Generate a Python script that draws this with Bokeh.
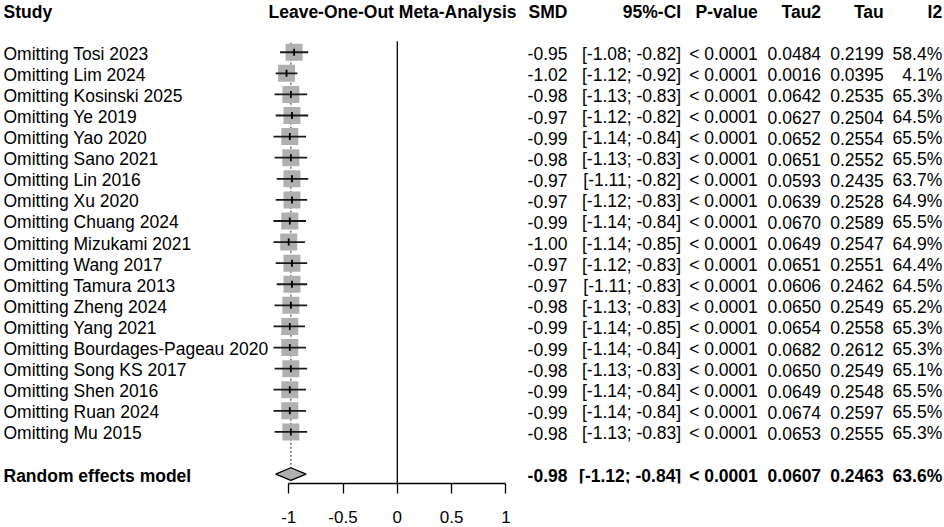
from math import pi
from bokeh.plotting import figure
from bokeh.models import Range1d, LinearAxis, FixedTicker, CustomJSTickFormatter, ColumnDataSource
from bokeh.core.properties import value
from bokeh.embed import file_html
from bokeh.resources import INLINE

# ---------------- data ----------------
studies = ["Omitting Tosi 2023", "Omitting Lim 2024", "Omitting Kosinski 2025", "Omitting Ye 2019",
           "Omitting Yao 2020", "Omitting Sano 2021", "Omitting Lin 2016", "Omitting Xu 2020",
           "Omitting Chuang 2024", "Omitting Mizukami 2021", "Omitting Wang 2017", "Omitting Tamura 2013",
           "Omitting Zheng 2024", "Omitting Yang 2021", "Omitting Bourdages-Pageau 2020",
           "Omitting Song KS 2017", "Omitting Shen 2016", "Omitting Ruan 2024", "Omitting Mu 2015"]
smd = [-0.95, -1.02, -0.98, -0.97, -0.99, -0.98, -0.97, -0.97, -0.99, -1.00,
       -0.97, -0.97, -0.98, -0.99, -0.99, -0.98, -0.99, -0.99, -0.98]
lower = [-1.08, -1.12, -1.13, -1.12, -1.14, -1.13, -1.11, -1.12, -1.14, -1.14,
         -1.12, -1.11, -1.13, -1.14, -1.14, -1.13, -1.14, -1.14, -1.13]
upper = [-0.82, -0.92, -0.83, -0.82, -0.84, -0.83, -0.82, -0.83, -0.84, -0.85,
         -0.83, -0.83, -0.83, -0.85, -0.84, -0.83, -0.84, -0.84, -0.83]
pval = ["< 0.0001"] * 19
tau2 = [0.0484, 0.0016, 0.0642, 0.0627, 0.0652, 0.0651, 0.0593, 0.0639, 0.0670, 0.0649,
        0.0651, 0.0606, 0.0650, 0.0654, 0.0682, 0.0650, 0.0649, 0.0674, 0.0653]
tau = [0.2199, 0.0395, 0.2535, 0.2504, 0.2554, 0.2552, 0.2435, 0.2528, 0.2589, 0.2547,
       0.2551, 0.2462, 0.2549, 0.2558, 0.2612, 0.2549, 0.2548, 0.2597, 0.2555]
i2 = [58.4, 4.1, 65.3, 64.5, 65.5, 65.5, 63.7, 64.9, 65.5, 64.9,
      64.4, 64.5, 65.2, 65.3, 65.3, 65.1, 65.5, 65.5, 65.3]

re_label = "Random effects model"
re_smd, re_lower, re_upper = -0.98, -1.12, -0.84
re_pval = "< 0.0001"
re_tau2, re_tau, re_i2 = 0.0607, 0.2463, 63.6

headers = ["Study", "Leave-One-Out Meta-Analysis", "SMD", "95%-CI", "P-value", "Tau2", "Tau", "I2"]
x_ticks = [-1, -0.5, 0, 0.5, 1]

# ---------------- layout ----------------
W, H = 944, 527
X0_PX = 396.8          # canvas pixel of SMD = 0
PX_PER_UNIT = 108.6


def px2x(px):
    return (px - X0_PX) / PX_PER_UNIT


ROW_TOP, ROW_BOTTOM = -2.4526, 20.446
n = len(studies)
rows = list(range(n))
re_row = n + 1
header_row = -2
FONT = value("Liberation Sans")
FS = "17.5px"
Y_OFF = 1.5

p = figure(width=W, height=H, x_range=Range1d(px2x(0), px2x(W)),
           y_range=Range1d(ROW_BOTTOM, ROW_TOP),
           x_axis_type=None, y_axis_type=None, output_backend="svg",
           toolbar_location=None, min_border=0, min_border_bottom=44,
           outline_line_color=None,
           background_fill_color="white", border_fill_color="white")

axis = LinearAxis(ticker=FixedTicker(ticks=x_ticks),
                  formatter=CustomJSTickFormatter(code="return String(tick)"),
                  bounds=(-1, 1))
axis.major_tick_in = 0
axis.major_tick_out = 10
axis.minor_tick_in = 0
axis.minor_tick_out = 0
axis.axis_line_color = "black"
axis.axis_line_width = 1.3
axis.major_tick_line_color = "black"
axis.major_tick_line_width = 1.3
axis.major_label_standoff = 17
axis.major_label_text_font = "Liberation Sans"
axis.major_label_text_font_size = "17px"
axis.major_label_text_color = "black"
p.add_layout(axis, "below")

# reference line at 0 and dotted line at pooled estimate
p.segment(x0=[0], y0=[-0.52], x1=[0], y1=[ROW_BOTTOM], line_color="black", line_width=1.3)
dh = 0.30
p.segment(x0=[re_smd], y0=[-0.45], x1=[re_smd], y1=[re_row - dh],
          line_color="#555555", line_width=1.3, line_dash="2 2")

# squares, CIs, estimate ticks
p.scatter(x=smd, y=rows, marker="square", size=17, fill_color="#b0b0b0", line_color=None)
p.segment(x0=lower, y0=rows, x1=upper, y1=rows, line_color="#1a1a1a", line_width=1.8)
p.scatter(x=smd, y=rows, marker="dash", angle=pi / 2, size=7, line_color="black", line_width=1.8)

# diamond
p.patch(x=[re_lower, re_smd, re_upper, re_smd], y=[re_row, re_row - dh, re_row, re_row + dh],
        fill_color="#b0b0b0", line_color="black", line_width=1.3)

# ---------------- text columns ----------------
col_right_px = {"SMD": 567.0, "95%-CI": 680.7, "P-value": 757.3, "Tau2": 820.6, "Tau": 883.2, "I2": 941.7}


def add_text(xs, ys, texts, align, bold=False):
    src = ColumnDataSource(dict(x=xs, y=ys, text=texts))
    p.text(x="x", y="y", text="text", source=src, text_align=align, text_baseline="middle",
           text_font=FONT, text_font_size=FS, text_color="black", y_offset=Y_OFF,
           text_font_style="bold" if bold else "normal")


# headers
add_text([px2x(3)], [header_row], [headers[0]], "left", True)
add_text([px2x(268)], [header_row], [headers[1]], "left", True)
add_text([px2x(col_right_px[h]) for h in headers[2:]], [header_row] * 6, headers[2:], "right", True)

# study rows
add_text([px2x(3)] * n, rows, studies, "left")
cols = [
    ("SMD", ["%.2f" % v for v in smd]),
    ("95%-CI", ["[%.2f; %.2f]" % (a, b) for a, b in zip(lower, upper)]),
    ("P-value", pval),
    ("Tau2", ["%.4f" % v for v in tau2]),
    ("Tau", ["%.4f" % v for v in tau]),
    ("I2", ["%.1f%%" % v for v in i2]),
]
for name, texts in cols:
    add_text([px2x(col_right_px[name])] * n, rows, texts, "right")

# pooled row
add_text([px2x(3)], [re_row], [re_label], "left", True)
re_texts = ["%.2f" % re_smd, "[%.2f; %.2f]" % (re_lower, re_upper), re_pval,
            "%.4f" % re_tau2, "%.4f" % re_tau, "%.1f%%" % re_i2]
add_text([px2x(col_right_px[h]) for h in headers[2:]], [re_row] * 6, re_texts, "right", True)

open("out.html", "w").write(file_html(p, INLINE))
